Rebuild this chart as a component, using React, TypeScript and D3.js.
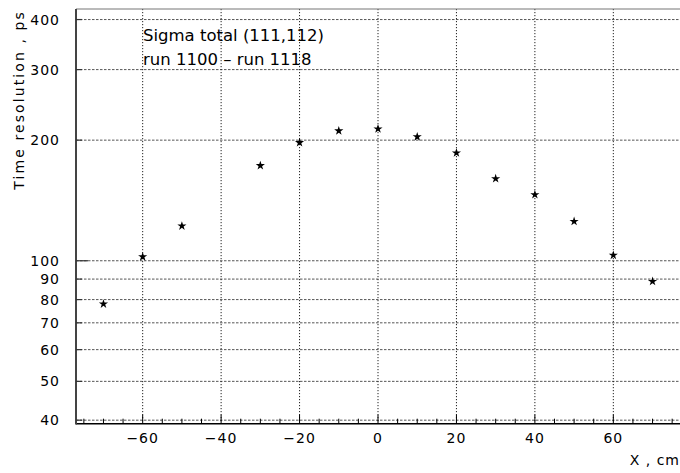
import React from "react";
import * as d3 from "d3";

const xPositions = [-70, -60, -50, -30, -20, -10, 0, 10, 20, 30, 40, 50, 60, 70];
const sigmaValues = [78.0, 102.3, 122.1, 172.8, 197.2, 211, 213.4, 203.9, 185.9, 160.3, 146.2, 125.4, 103.2, 88.8];
const yTickValues = [40, 50, 60, 70, 80, 90, 100, 200, 300, 400];
const xMajorTicks = [-60, -40, -20, 0, 20, 40, 60];
const titleLines = ["Sigma total (111,112)", "run 1100 \u2013 run 1118"];

const W = 680;
const H = 473;
const left = 76;
const right = 680;
const top = 9;
const bottom = 423.7;

export default function App() {
  const x = d3.scaleLinear().domain([-77, 77]).range([left, right]);
  const y = d3.scaleLog().domain([39.2, 425]).range([bottom, top]);
  const xMinor = d3.range(-75, 76, 5);
  const star = d3.symbol().type(d3.symbolStar).size(26)() as string;
  const font = "'DejaVu Sans', sans-serif";

  return (
    <svg width={W} height={H} style={{ position: "absolute", left: 0, top: 0, background: "#fff" }}>
      {/* horizontal dashed grid */}
      {yTickValues.map((v) => (
        <line key={"hg" + v} x1={left} x2={right} y1={y(v)} y2={y(v)} stroke="#555" strokeWidth={1} strokeDasharray="2.5,1.5" />
      ))}
      {/* vertical dotted grid */}
      {xMajorTicks.map((v) => (
        <line key={"vg" + v} x1={x(v)} x2={x(v)} y1={top} y2={bottom} stroke="#222" strokeWidth={1} strokeDasharray="1.2,1.8" />
      ))}
      {/* frame */}
      <line x1={left} x2={right} y1={top} y2={top} stroke="#777" strokeWidth={1.2} />
      <line x1={left} x2={right} y1={bottom} y2={bottom} stroke="#000" strokeWidth={1.5} />
      <line x1={left} x2={left} y1={top} y2={bottom + 0.8} stroke="#444" strokeWidth={2} />
      {/* x ticks */}
      {xMinor.map((v) => (
        <line key={"xt" + v} x1={x(v)} x2={x(v)} y1={bottom} y2={bottom - (v % 20 === 0 ? 9 : 5)} stroke="#000" strokeWidth={1} />
      ))}
      {xMajorTicks.map((v) => (
        <text key={"xl" + v} x={x(v)} y={443} textAnchor="middle" fontFamily={font} fontSize={14} letterSpacing={1} fill="#000">
          {v < 0 ? "\u2212" + Math.abs(v) : String(v)}
        </text>
      ))}
      {/* y ticks */}
      {yTickValues.map((v) => (
        <line key={"yt" + v} x1={left} x2={left + (v === 100 ? 12 : 6)} y1={y(v)} y2={y(v)} stroke="#333" strokeWidth={1.2} />
      ))}
      {yTickValues.map((v) => (
        <text key={"yl" + v} x={60} y={y(v) + 5} textAnchor="end" fontFamily={font} fontSize={14} letterSpacing={1} fill="#000">
          {v}
        </text>
      ))}
      {/* axis titles */}
      <text x={680} y={465} textAnchor="end" fontFamily={font} fontSize={14} letterSpacing={1} fill="#000">X , cm</text>
      <text transform="translate(24,10) rotate(-90)" textAnchor="end" fontFamily={font} fontSize={14} letterSpacing={2.1} fill="#000">
        Time resolution , ps
      </text>
      {/* title text */}
      {titleLines.map((t, i) => (
        <text key={"t" + i} x={143} y={40.5 + i * 24.5} fontFamily={font} fontSize={16.5} fill="#000">{t}</text>
      ))}
      {/* markers */}
      {xPositions.map((xv, i) => (
        <path key={"m" + i} d={star} transform={`translate(${x(xv)},${y(sigmaValues[i])})`} fill="#000" />
      ))}
    </svg>
  );
}
